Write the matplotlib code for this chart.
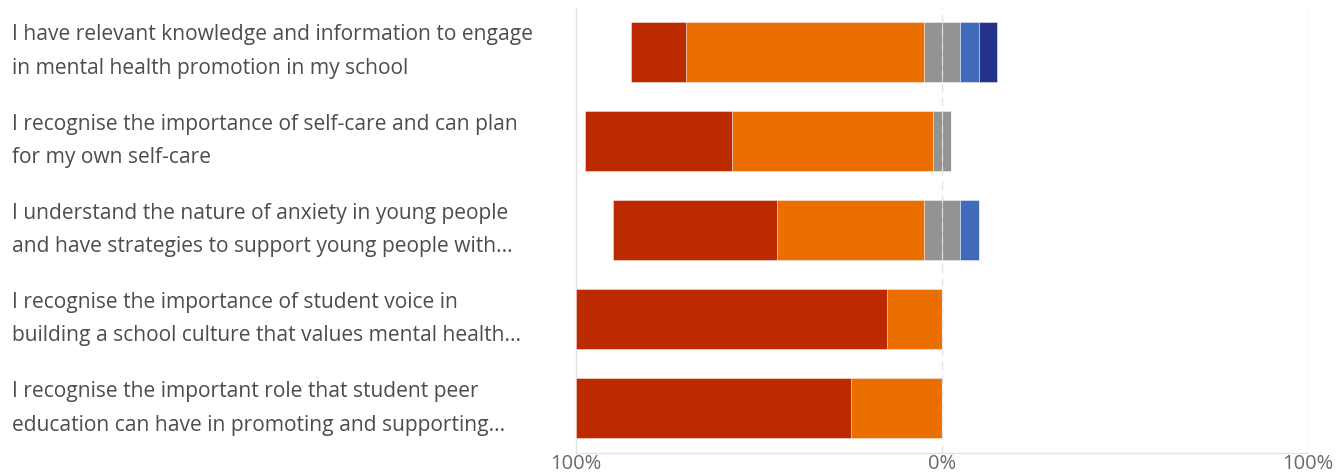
import matplotlib
matplotlib.use("Agg")
import matplotlib.pyplot as plt
import numpy as np

categories = [
    "I have relevant knowledge and information to engage\nin mental health promotion in my school",
    "I recognise the importance of self-care and can plan\nfor my own self-care",
    "I understand the nature of anxiety in young people\nand have strategies to support young people with...",
    "I recognise the importance of student voice in\nbuilding a school culture that values mental health...",
    "I recognise the important role that student peer\neducation can have in promoting and supporting...",
]
strongly_agree = [15, 40, 45, 85, 75]
agree = [65, 55, 40, 15, 25]
neutral = [10, 5, 10, 0, 0]
disagree = [5, 0, 5, 0, 0]
strongly_disagree = [5, 0, 0, 0, 0]
tick_values = [-100, 0, 100]
tick_labels = ["100%", "0%", "100%"]

colors = {
    "sa": "#BC2B00",
    "a": "#EB6F00",
    "n": "#939393",
    "d": "#3F6BBA",
    "sd": "#24338A",
}

fig = plt.figure(figsize=(13.36, 4.74), dpi=100)
ax = fig.add_axes([576 / 1336, 1 - 453 / 474, (1308 - 576) / 1336, (453 - 8) / 474])

y = np.arange(len(categories))
sa = np.array(strongly_agree, float)
a = np.array(agree, float)
n = np.array(neutral, float)
d = np.array(disagree, float)
sd = np.array(strongly_disagree, float)
h = 0.674
ekw = dict(edgecolor=(1, 1, 1, 0.5), linewidth=0.6, zorder=3)

# left side (negative)
ax.barh(y, -n / 2, left=0, height=h, color=colors["n"], **ekw)
ax.barh(y, -a, left=-n / 2, height=h, color=colors["a"], **ekw)
ax.barh(y, -sa, left=-n / 2 - a, height=h, color=colors["sa"], **ekw)
# right side (positive)
ax.barh(y, n / 2, left=0, height=h, color=colors["n"], **ekw)
ax.barh(y, d, left=n / 2, height=h, color=colors["d"], **ekw)
ax.barh(y, sd, left=n / 2 + d, height=h, color=colors["sd"], **ekw)

ax.set_xlim(-100, 100)
ax.set_ylim(4.5, -0.49)
ax.axvline(0, color="#dddddd", linestyle=(0, (6, 4)), linewidth=1, zorder=4, alpha=0.8)
ax.axvline(100, color="#e3e3e3", linewidth=1, zorder=1)

for s in ["top", "right"]:
    ax.spines[s].set_visible(False)
ax.spines["left"].set_color("#e3e3e3")
ax.spines["bottom"].set_color("#e3e3e3")
ax.spines["left"].set_linewidth(1)
ax.spines["bottom"].set_linewidth(1)

ax.set_xticks(tick_values)
ax.set_xticklabels(tick_labels, fontsize=14.5, color="#6a6a6a", family="Open Sans")
ax.tick_params(axis="x", length=0, pad=1)
ax.set_yticks([])

trans = matplotlib.transforms.blended_transform_factory(fig.transFigure, ax.transData)
for yi, cat in zip(y, categories):
    ax.text(12 / 1336, yi, cat, transform=trans,
            ha="left", va="center", fontsize=15.1, color="#4d4d4d", family="Open Sans",
            linespacing=1.78)

fig.savefig("out.png", dpi=100)
